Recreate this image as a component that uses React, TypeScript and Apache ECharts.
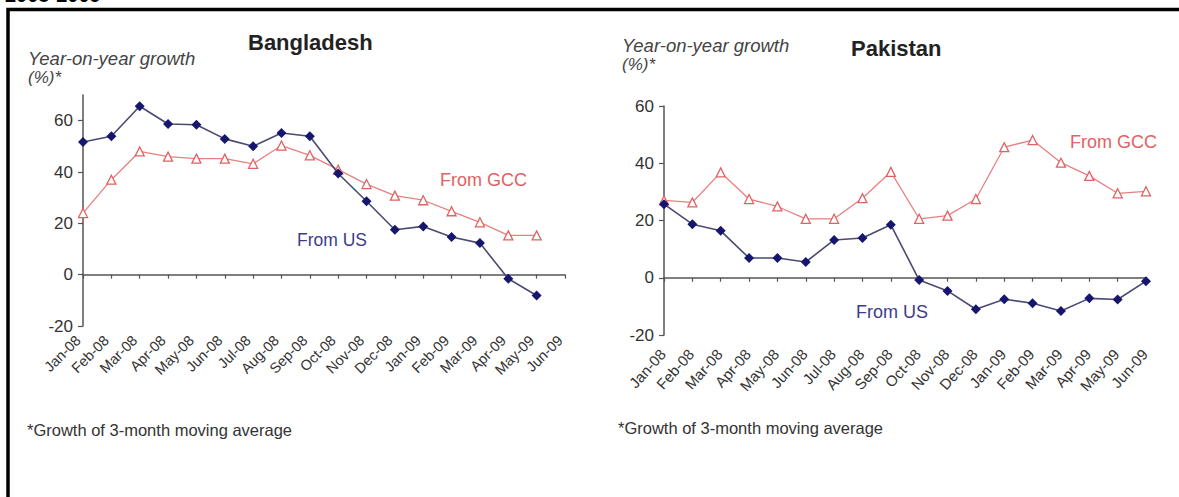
import React, { useEffect, useRef } from "react";
import * as echarts from "echarts";

const months = [
  "Jan-08", "Feb-08", "Mar-08", "Apr-08", "May-08", "Jun-08", "Jul-08", "Aug-08", "Sep-08",
  "Oct-08", "Nov-08", "Dec-08", "Jan-09", "Feb-09", "Mar-09", "Apr-09", "May-09", "Jun-09",
];
const bdUS = [51.7, 53.9, 65.6, 58.7, 58.4, 52.9, 50, 55.2, 53.9, 39.4, 28.6, 17.5, 18.8, 14.7, 12.3, -1.6, -8.1, null];
const bdGCC = [24, 37, 48, 46, 45.2, 45.2, 43.2, 50.3, 46.5, 40.9, 35.3, 30.8, 29, 24.7, 20.4, 15.3, 15.3, null];
const pkUS = [25.7, 18.7, 16.4, 6.9, 6.9, 5.5, 13.2, 13.9, 18.5, -0.8, -4.6, -11, -7.5, -8.9, -11.6, -7.2, -7.6, -1.2];
const pkGCC = [27, 26.3, 36.8, 27.5, 24.9, 20.6, 20.6, 27.8, 37, 20.6, 21.7, 27.5, 45.6, 48.1, 40.2, 35.6, 29.5, 30.2];
const yTicks = [-20, 0, 20, 40, 60];

const FONT = "'Liberation Sans', Arial, sans-serif";
const US_MARK = "#16166e";
const US_LINE = "#4a4a72";
const GCC = "#e06262";
const GCC_LINE = "#e88080";
const AX = "#555";

function labelAxis(grid: number, rotate: number, size: number, margin: number, pad: number[]) {
  return {
    type: "category", gridIndex: grid, data: months, boundaryGap: false, position: "bottom",
    axisLine: { show: false, onZero: false }, axisTick: { show: false },
    axisLabel: { rotate, fontSize: size, color: "#333", fontFamily: FONT, margin, interval: 0, padding: pad },
    splitLine: { show: false },
  };
}
function zeroAxis(grid: number) {
  return {
    type: "category", gridIndex: grid, data: months, boundaryGap: false, position: "bottom",
    axisLine: { show: true, onZero: true, lineStyle: { color: AX, width: 1.5 } },
    axisTick: { show: true, length: 4, interval: 0, lineStyle: { color: AX, width: 1.2 } },
    axisLabel: { show: false }, splitLine: { show: false },
  };
}
function yAxis(grid: number, max: number) {
  return {
    type: "value", gridIndex: grid, min: -20, max, interval: 20,
    axisLine: { show: true, onZero: false, lineStyle: { color: AX, width: 1.5 } },
    axisTick: { show: true, length: 5, customValues: yTicks, lineStyle: { color: AX, width: 1.2 } },
    axisLabel: { customValues: yTicks, fontSize: 17, color: "#333", fontFamily: FONT, margin: 10 },
    splitLine: { show: false },
  };
}
function usSeries(data: (number | null)[], xi: number, yi: number) {
  return {
    type: "line", data, xAxisIndex: xi, yAxisIndex: yi, symbol: "diamond", symbolSize: 10,
    itemStyle: { color: US_MARK }, lineStyle: { color: US_LINE, width: 1.6 }, z: 3,
  };
}
function gccSeries(data: (number | null)[], xi: number, yi: number) {
  return {
    type: "line", data, xAxisIndex: xi, yAxisIndex: yi, symbol: "triangle", symbolSize: 9,
    itemStyle: { color: "#fff", borderColor: GCC, borderWidth: 1.3 },
    lineStyle: { color: GCC_LINE, width: 1.3 }, z: 2,
  };
}
function txt(x: number, y: number, text: string, size: number, color: string, extra: any = {}) {
  return {
    type: "text", x, y, silent: true,
    style: { text, fontSize: size, fill: color, fontFamily: FONT, verticalAlign: "middle", align: "left", ...extra },
  };
}

export default function App() {
  const ref = useRef<HTMLDivElement>(null);
  useEffect(() => {
    if (!ref.current) return;
    const chart = echarts.init(ref.current, undefined, { renderer: "svg" });
    chart.setOption({
      animation: false,
      backgroundColor: "#fff",
      grid: [
        { left: 83, top: 95, width: 482, height: 231 },
        { left: 664, top: 106, width: 482, height: 229 },
      ],
      xAxis: [
        labelAxis(0, 45, 14.5, 7, [0, 7, 0, 0]),
        zeroAxis(0),
        labelAxis(1, 48, 15, 15, [0, 2, 0, 0]),
        zeroAxis(1),
      ],
      yAxis: [yAxis(0, 70), yAxis(1, 60)],
      series: [
        gccSeries(bdGCC, 0, 0),
        usSeries(bdUS, 0, 0),
        gccSeries(pkGCC, 2, 1),
        usSeries(pkUS, 2, 1),
      ],
      graphic: [
        { type: "rect", silent: true, shape: { x: 8, y: 9.5, width: 1400, height: 800 }, style: { fill: "none", stroke: "#000", lineWidth: 3.5 } },
        txt(5, 4.5, "2008-2009", 20, "#000", { fontWeight: "bold", verticalAlign: "bottom" }),
        txt(248, 42, "Bangladesh", 22, "#222", { fontWeight: "bold" }),
        txt(28, 58, "Year-on-year growth", 18.5, "#444", { fontStyle: "italic" }),
        txt(28, 77, "(%)*", 17, "#444", { fontStyle: "italic" }),
        txt(440, 180, "From GCC", 18, GCC),
        txt(297, 240, "From US", 17.5, "#3c3c8c"),
        txt(27, 430, "*Growth of 3-month moving average", 16.5, "#333"),
        txt(851, 48, "Pakistan", 22, "#222", { fontWeight: "bold" }),
        txt(622, 45, "Year-on-year growth", 18.5, "#444", { fontStyle: "italic" }),
        txt(622, 64, "(%)*", 17, "#444", { fontStyle: "italic" }),
        txt(1070, 142, "From GCC", 18, GCC),
        txt(856, 312, "From US", 18, "#3c3c8c"),
        txt(618, 428, "*Growth of 3-month moving average", 16.5, "#333"),
      ],
    });
    return () => chart.dispose();
  }, []);
  return <div ref={ref} style={{ position: "absolute", left: 0, top: 0, width: 1179, height: 497 }} />;
}
